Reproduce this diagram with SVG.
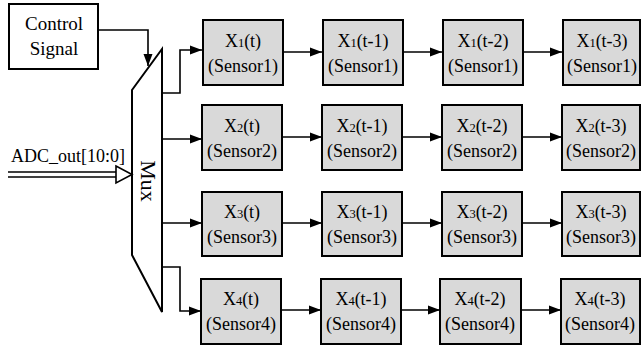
<svg xmlns="http://www.w3.org/2000/svg" width="641" height="349" viewBox="0 0 641 349">
<style>
.box{fill:#d9d9d9;stroke:#000;stroke-width:2}
text{font-family:"Liberation Serif","Times New Roman",serif}
.t{font-size:18px;text-anchor:middle;fill:#000}
.s{font-size:12.5px}
.ln{fill:none;stroke:#000;stroke-width:1.6}
</style>
<defs>
<marker id="ah" markerWidth="12" markerHeight="10" refX="12" refY="5" orient="auto" markerUnits="userSpaceOnUse">
<path d="M0,0.5 L12,5 L0,9.5 Z" fill="#000"/>
</marker>
</defs>
<g id="control">
<rect x="9" y="4" width="89" height="65" fill="#fff" stroke="#000" stroke-width="2"/>
<text class="t" x="54" y="30" style="font-size:19px">Control</text>
<text class="t" x="54" y="55" style="font-size:19px">Signal</text>
</g>
<g id="mux">
<path d="M132,90 L162,49 L162,312 L132,255 Z" fill="#fff" stroke="#000" stroke-width="2"/>
<text class="t" transform="translate(141,181) rotate(90)" style="font-size:22px">Mux</text>
</g>
<g id="adc">
<text class="t" x="68" y="162">ADC_out[10:0]</text>
</g>
<g id="connectors">
<path class="ln" d="M98,30 H148 V66" marker-end="url(#ah)"/>
<path d="M8,172 H117 M8,177 H117" stroke="#000" stroke-width="1.4" fill="none"/>
<path d="M116,166 L132,174.5 L116,183 Z" fill="#fff" stroke="#000" stroke-width="1.6"/>
<path class="ln" d="M162,93 H180 V50 H202" marker-end="url(#ah)"/>
<path class="ln" d="M162,139 H202" marker-end="url(#ah)"/>
<path class="ln" d="M162,223 H202" marker-end="url(#ah)"/>
<path class="ln" d="M162,267 H180 V311 H201" marker-end="url(#ah)"/>
<path class="ln" d="M283,52 H322" marker-end="url(#ah)"/>
<path class="ln" d="M403,52 H442" marker-end="url(#ah)"/>
<path class="ln" d="M523,52 H562" marker-end="url(#ah)"/>
<path class="ln" d="M282,137 H322" marker-end="url(#ah)"/>
<path class="ln" d="M402,137 H442" marker-end="url(#ah)"/>
<path class="ln" d="M522,137 H562" marker-end="url(#ah)"/>
<path class="ln" d="M282,223 H322" marker-end="url(#ah)"/>
<path class="ln" d="M402,223 H442" marker-end="url(#ah)"/>
<path class="ln" d="M522,223 H562" marker-end="url(#ah)"/>
<path class="ln" d="M281,310 H321" marker-end="url(#ah)"/>
<path class="ln" d="M401,310 H440" marker-end="url(#ah)"/>
<path class="ln" d="M521,310 H561" marker-end="url(#ah)"/>
</g>
<g id="x1t"><rect class="box" x="203" y="20" width="80" height="65"/><text class="t" x="243" y="47">X<tspan class="s">1</tspan>(t)</text><text class="t" x="243" y="72">(Sensor1)</text></g>
<g id="x1t1"><rect class="box" x="323" y="20" width="80" height="65"/><text class="t" x="363" y="47">X<tspan class="s">1</tspan>(t-1)</text><text class="t" x="363" y="72">(Sensor1)</text></g>
<g id="x1t2"><rect class="box" x="443" y="20" width="80" height="65"/><text class="t" x="483" y="47">X<tspan class="s">1</tspan>(t-2)</text><text class="t" x="483" y="72">(Sensor1)</text></g>
<g id="x1t3"><rect class="box" x="563" y="20" width="77" height="65"/><text class="t" x="602" y="47">X<tspan class="s">1</tspan>(t-3)</text><text class="t" x="602" y="72">(Sensor1)</text></g>

<g id="x2t"><rect class="box" x="202" y="105" width="80" height="65"/><text class="t" x="242" y="132">X<tspan class="s">2</tspan>(t)</text><text class="t" x="242" y="157">(Sensor2)</text></g>
<g id="x2t1"><rect class="box" x="322" y="105" width="80" height="65"/><text class="t" x="362" y="132">X<tspan class="s">2</tspan>(t-1)</text><text class="t" x="362" y="157">(Sensor2)</text></g>
<g id="x2t2"><rect class="box" x="442" y="105" width="80" height="65"/><text class="t" x="482" y="132">X<tspan class="s">2</tspan>(t-2)</text><text class="t" x="482" y="157">(Sensor2)</text></g>
<g id="x2t3"><rect class="box" x="562" y="105" width="78" height="65"/><text class="t" x="601" y="132">X<tspan class="s">2</tspan>(t-3)</text><text class="t" x="601" y="157">(Sensor2)</text></g>

<g id="x3t"><rect class="box" x="202" y="192" width="80" height="64"/><text class="t" x="242" y="218">X<tspan class="s">3</tspan>(t)</text><text class="t" x="242" y="243">(Sensor3)</text></g>
<g id="x3t1"><rect class="box" x="322" y="192" width="80" height="64"/><text class="t" x="362" y="218">X<tspan class="s">3</tspan>(t-1)</text><text class="t" x="362" y="243">(Sensor3)</text></g>
<g id="x3t2"><rect class="box" x="442" y="192" width="80" height="64"/><text class="t" x="482" y="218">X<tspan class="s">3</tspan>(t-2)</text><text class="t" x="482" y="243">(Sensor3)</text></g>
<g id="x3t3"><rect class="box" x="562" y="192" width="78" height="64"/><text class="t" x="601" y="218">X<tspan class="s">3</tspan>(t-3)</text><text class="t" x="601" y="243">(Sensor3)</text></g>

<g id="x4t"><rect class="box" x="201" y="279" width="80" height="65"/><text class="t" x="241" y="305">X<tspan class="s">4</tspan>(t)</text><text class="t" x="241" y="330">(Sensor4)</text></g>
<g id="x4t1"><rect class="box" x="321" y="279" width="80" height="65"/><text class="t" x="361" y="305">X<tspan class="s">4</tspan>(t-1)</text><text class="t" x="361" y="330">(Sensor4)</text></g>
<g id="x4t2"><rect class="box" x="440" y="279" width="81" height="65"/><text class="t" x="480" y="305">X<tspan class="s">4</tspan>(t-2)</text><text class="t" x="480" y="330">(Sensor4)</text></g>
<g id="x4t3"><rect class="box" x="561" y="279" width="79" height="65"/><text class="t" x="600" y="305">X<tspan class="s">4</tspan>(t-3)</text><text class="t" x="600" y="330">(Sensor4)</text></g>
</svg>
